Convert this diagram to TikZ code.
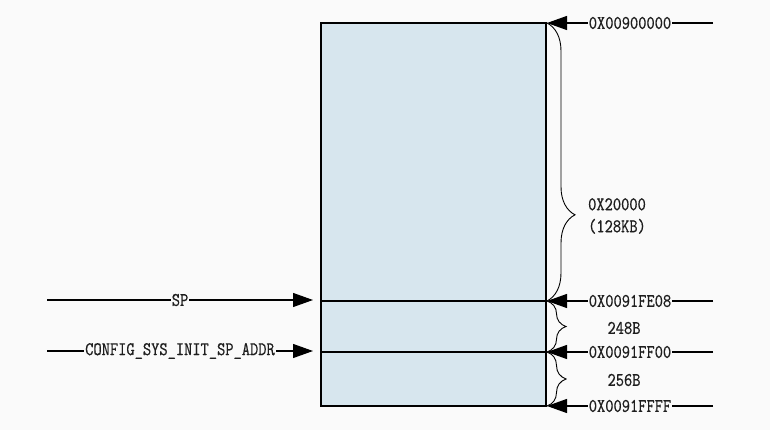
\documentclass[tikz,border=0pt]{standalone}
\usepackage{fontspec}
\newfontfamily\addrfont{Latin Modern Mono}[FakeBold=0.7]
\usetikzlibrary{arrows.meta,decorations.pathreplacing,calc}
\definecolor{bg}{RGB}{250,250,250}
\definecolor{memblue}{RGB}{215,230,238}
\definecolor{txt}{RGB}{30,30,30}
\newcommand{\tall}[1]{\scalebox{1}[1.2]{#1}}
\begin{document}
\begin{tikzpicture}[x=1pt, y=-1pt, >={Triangle[length=20pt,width=14pt]}, line width=1.2pt,
    lbl/.style={fill=bg, inner sep=1pt, text=txt, font=\addrfont\fontsize{16}{22}\selectfont},
    brc/.style={decorate, decoration={brace, amplitude=#1}, line width=.9pt}]
    \fill[bg](0,0)rectangle(770,430);
    % memory block
    \draw[fill=memblue](321,23)rectangle(546,406);
    \coordinate(top) at (546,23);
    \coordinate(fe08) at (546,301);
    \coordinate(ff00) at (546,352);
    \coordinate(ffff) at (546,406);
    \draw(321,301)--(fe08);
    \draw(321,352)--(ff00);
    % pointers on the left
    \coordinate(sp) at (47,300);
    \coordinate(spaddr) at (47,351);
    \draw[->](sp)--node[lbl]{\tall{SP}}(313,300);
    \draw[->](spaddr)--node[lbl]{\tall{CONFIG\_SYS\_INIT\_SP\_ADDR}}(313,351);
    % addresses on the right
    \foreach \c/\t in {top/0X00900000, fe08/0X0091FE08, ff00/0X0091FF00, ffff/0X0091FFFF}
        \draw[->]($(\c)+(167,0)$)--node[lbl]{\tall{\t}}($(\c)+(1,0)$);
    % sizes
    \draw[brc=28pt, decoration={aspect=.69}]($(top)+(1,0)$)--($(fe08)+(1,0)$);
    \draw[brc=19pt]($(fe08)+(1,0)$)--($(ff00)+(1,0)$);
    \draw[brc=19pt]($(ff00)+(1,0)$)--($(ffff)+(1,0)$);
    \node[lbl, fill=none, align=center] at (617,216){\tall{0X20000}\\\tall{(128KB)}};
    \node[lbl, fill=none] at (624,328){\tall{248B}};
    \node[lbl, fill=none] at (624,380){\tall{256B}};
\end{tikzpicture}
\end{document}
